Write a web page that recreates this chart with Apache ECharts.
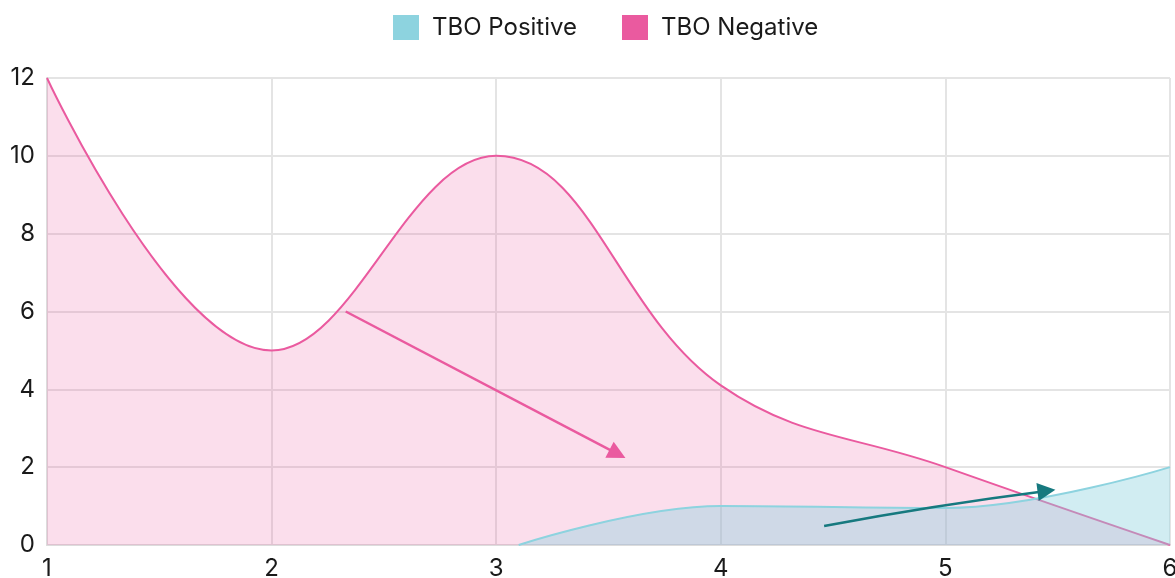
<!DOCTYPE html>
<html>
<head>
    <meta charset="utf-8" />
    <title></title>
    <script src="https://cdn.jsdelivr.net/npm/echarts@6/dist/echarts.min.js"></script>
    <style>
        html, body { margin: 0; padding: 0; background: #fff; }
    </style>
</head>
<body>
    <div id="EChart" style="width:1175px; height:578px;"></div>
    <script type="text/javascript">
        // data
        var xTicks = [1, 2, 3, 4, 5, 6];
        var negativeX = [1, 2, 3, 4, 5, 6];
        var negativeY = [12, 5, 10, 4.1, 2, 0];
        var positiveX = [3.1, 4, 5, 6];
        var positiveY = [0, 1, 0.95, 2];
        // trend arrows: [x1, y1, x2, y2]
        var negativeArrow = [2.33, 6.0, 3.54, 2.34];
        var positiveArrow = [4.46, 0.49, 5.45, 1.39];

        var font = 'Inter';
        var pink = '#ea5a9f';
        var teal = '#8dd3df';

        function pairs(xs, ys) {
            return xs.map(function (x, i) { return [x, ys[i]]; });
        }

        var legendText = { fontFamily: font, fontSize: 24, color: '#1a1a1a', padding: [0, 0, 0, 8] };

        var option = {
            animation: false,
            legend: [{
                data: ['TBO Positive'],
                top: 15, left: 393, padding: 0,
                itemWidth: 26, itemHeight: 25,
                icon: 'rect',
                textStyle: legendText
            }, {
                data: ['TBO Negative'],
                top: 15, left: 622, padding: 0,
                itemWidth: 26, itemHeight: 25,
                icon: 'rect',
                textStyle: legendText
            }],
            grid: { left: 47, right: 5, top: 78, bottom: 33, outerBoundsMode: 'none' },
            xAxis: {
                type: 'value',
                min: 1,
                max: 6,
                interval: 1,
                axisLine: { show: true, lineStyle: { color: '#dcdcdc', width: 2 } },
                axisTick: { show: false },
                splitLine: { show: true, lineStyle: { color: '#e4e4e4', width: 2 } },
                axisLabel: {
                    margin: 12, fontFamily: font, fontSize: 24, color: '#1a1a1a',
                    showMinLabel: true, showMaxLabel: true
                }
            },
            yAxis: {
                type: 'value',
                min: 0,
                max: 12,
                interval: 2,
                axisLine: { show: true, lineStyle: { color: '#dcdcdc', width: 2 } },
                axisTick: { show: false },
                splitLine: { show: true, lineStyle: { color: '#e4e4e4', width: 2 } },
                axisLabel: { margin: 12, fontFamily: font, fontSize: 24, color: '#1a1a1a' }
            },
            series: [{
                name: 'TBO Negative',
                type: 'line',
                smooth: 0.4,
                showSymbol: false,
                z: 2,
                itemStyle: { color: pink },
                lineStyle: { color: pink, width: 2 },
                areaStyle: { color: 'rgba(234,90,159,0.2)', opacity: 1 },
                data: pairs(negativeX, negativeY)
            }, {
                name: 'TBO Positive',
                type: 'line',
                smooth: 0.4,
                showSymbol: false,
                z: 3,
                itemStyle: { color: teal },
                lineStyle: { color: teal, width: 2 },
                areaStyle: { color: 'rgba(141,211,223,0.4)', opacity: 1 },
                data: pairs(positiveX, positiveY)
            }, {
                type: 'lines',
                coordinateSystem: 'cartesian2d',
                symbol: ['none', 'triangle'],
                symbolSize: 18,
                silent: true,
                z: 5,
                data: [{
                    coords: [[negativeArrow[0], negativeArrow[1]], [negativeArrow[2], negativeArrow[3]]],
                    lineStyle: { color: pink, width: 2.5, opacity: 1, curveness: 0 }
                }, {
                    coords: [[positiveArrow[0], positiveArrow[1]], [positiveArrow[2], positiveArrow[3]]],
                    lineStyle: { color: '#16797f', width: 2.5, opacity: 1, curveness: 0.015 }
                }]
            }]
        };

        var myChart = echarts.init(document.getElementById('EChart'));
        myChart.setOption(option);
    </script>
</body>
</html>
